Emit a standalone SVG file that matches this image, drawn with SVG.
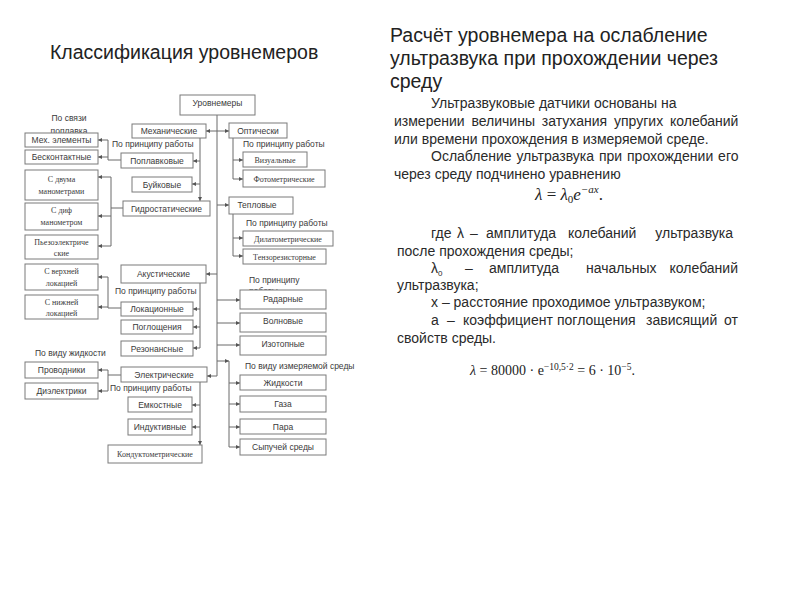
<svg xmlns="http://www.w3.org/2000/svg" width="800" height="600" viewBox="0 0 800 600">
<style>
.bg{fill:#fff}
.box{fill:#fff;stroke:#7a7a7a;stroke-width:1}
.t{font-family:"Liberation Sans",Arial,sans-serif;font-size:8.5px;fill:#3a3a3a;text-anchor:middle}
.s{font-family:"Liberation Serif","Times New Roman",serif;font-size:8px;fill:#3a3a3a;text-anchor:middle}
.lbl{font-family:"Liberation Sans",Arial,sans-serif;font-size:8.5px;fill:#3a3a3a}
.title{font-family:"Liberation Sans",Arial,sans-serif;font-size:19.5px;fill:#222}
.body{font-family:"Liberation Sans",Arial,sans-serif;font-size:14px;fill:#2a2a2a}
.math{font-family:"Liberation Serif","Times New Roman",serif;fill:#222}
.c{fill:none;stroke:#6a6a6a;stroke-width:1}
.a{fill:none;stroke:#6a6a6a;stroke-width:1;marker-end:url(#ah)}
</style>
<defs>
<marker id="ah" viewBox="0 0 6 6" markerWidth="4" markerHeight="4" refX="6" refY="3" orient="auto" markerUnits="userSpaceOnUse">
<path d="M0,0 L6,3 L0,6 z" fill="#555"/>
</marker>
</defs>
<rect class="bg" x="0" y="0" width="800" height="600"/>

<text class="title" x="50" y="59">Классификация уровнемеров</text>

<g id="labels">
<text class="lbl" x="69" y="121" text-anchor="middle">По связи</text>
<text class="lbl" x="69" y="133.5" text-anchor="middle">поплавка</text>
<text class="lbl" x="112" y="147">По принципу работы</text>
<text class="lbl" x="243" y="147">По принципу работы</text>
<text class="lbl" x="246" y="226">По принципу работы</text>
<text class="lbl" x="249" y="283">По принципу</text>
<text class="lbl" x="249" y="293.5">работы</text>
<text class="lbl" x="115" y="294">По принципу работы</text>
<text class="lbl" x="35" y="356">По виду жидкости</text>
<text class="lbl" x="110" y="391">По принципу работы</text>
<text class="lbl" x="245" y="369">По виду измеряемой среды</text>
</g>

<g id="connectors">
<path class="c" d="M217,115 V376"/>
<path class="a" d="M217,131 H206"/>
<path class="a" d="M217,131 H229"/>
<path class="a" d="M200,138 V201"/>
<path class="a" d="M200,161 H193"/>
<path class="a" d="M200,184 H192"/>
<path class="c" d="M121,160 H108 M108,140 V160"/>
<path class="a" d="M108,140 H98"/>
<path class="a" d="M108,157 H98"/>
<path class="c" d="M123,208 H111 M111,177 V246"/>
<path class="a" d="M111,177 H98"/>
<path class="a" d="M111,216 H98"/>
<path class="a" d="M111,246 H98"/>
<path class="c" d="M233,138 V179"/>
<path class="a" d="M233,160 H243"/>
<path class="a" d="M233,179 H243"/>
<path class="a" d="M217,205 H229"/>
<path class="c" d="M233,214 V256"/>
<path class="a" d="M233,238 H243"/>
<path class="a" d="M233,256 H243"/>
<path class="a" d="M217,274 H206"/>
<path class="c" d="M200,283 V348"/>
<path class="a" d="M200,309 H193"/>
<path class="a" d="M200,327 H193"/>
<path class="a" d="M200,348 H193"/>
<path class="c" d="M121,308 H108 M108,277 V308"/>
<path class="a" d="M108,277 H98"/>
<path class="a" d="M108,307 H98"/>
<path class="a" d="M217,300 H240"/>
<path class="a" d="M217,323 H240"/>
<path class="a" d="M217,345 H240"/>
<path class="a" d="M217,361 H229"/>
<path class="c" d="M229,361 V447"/>
<path class="a" d="M229,383 H240"/>
<path class="a" d="M229,404 H240"/>
<path class="a" d="M229,427 H240"/>
<path class="a" d="M229,447 H240"/>
<path class="a" d="M217,376 H207"/>
<path class="c" d="M121,375 H108 M108,370 V391"/>
<path class="a" d="M108,370 H98"/>
<path class="a" d="M108,391 H98"/>
<path class="a" d="M200,382 V445"/>
<path class="a" d="M200,405 H192"/>
<path class="a" d="M200,427 H192"/>
</g>

<g id="n-root"><rect class="box" x="180" y="95" width="75" height="20"/><text class="t" x="217.5" y="106">Уровнемеры</text></g>
<g id="n-mech"><rect class="box" x="132" y="124" width="74" height="14"/><text class="t" x="169" y="134">Механические</text></g>
<g id="n-opt"><rect class="box" x="229" y="123" width="58" height="15"/><text class="t" x="258" y="134">Оптически</text></g>
<g id="n-mexel"><rect class="box" x="25" y="133" width="73" height="14"/><text class="t" x="61.5" y="143">Мех. элементы</text></g>
<g id="n-beskont"><rect class="box" x="25" y="150" width="73" height="14"/><text class="t" x="61.5" y="160">Бесконтактные</text></g>
<g id="n-poplav"><rect class="box" x="121" y="153" width="72" height="15"/><text class="t" x="157" y="164">Поплавковые</text></g>
<g id="n-buik"><rect class="box" x="132" y="177" width="60" height="15"/><text class="t" x="162" y="188">Буйковые</text></g>
<g id="n-gidro"><rect class="box" x="123" y="201" width="87" height="15"/><text class="t" x="166.5" y="212">Гидростатические</text></g>
<g id="n-dvuma"><rect class="box" x="25" y="170" width="73" height="30"/><text class="s" x="61.5" y="182">С двума</text><text class="s" x="61.5" y="194">манометрами</text></g>
<g id="n-dif"><rect class="box" x="25" y="203" width="73" height="27"/><text class="s" x="61.5" y="213">С диф</text><text class="s" x="61.5" y="225">манометром</text></g>
<g id="n-piezo"><rect class="box" x="25" y="235" width="73" height="24"/><text class="s" x="61.5" y="245">Пьезоэлектриче</text><text class="s" x="61.5" y="256">ские</text></g>
<g id="n-verh"><rect class="box" x="25" y="264" width="73" height="26"/><text class="s" x="61.5" y="274">С верхней</text><text class="s" x="61.5" y="286">локацией</text></g>
<g id="n-nizh"><rect class="box" x="25" y="295" width="73" height="24"/><text class="s" x="61.5" y="305">С нижней</text><text class="s" x="61.5" y="316">локацией</text></g>
<g id="n-vizual"><rect class="box" x="243" y="152" width="64" height="15"/><text class="s" x="275" y="162.5">Визуальные</text></g>
<g id="n-foto"><rect class="box" x="243" y="170" width="82" height="17"/><text class="s" x="284" y="181.5">Фотометрические</text></g>
<g id="n-teplo"><rect class="box" x="229" y="197" width="64" height="17"/><text class="t" x="257" y="208">Тепловые</text></g>
<g id="n-dilat"><rect class="box" x="243" y="231" width="90" height="15"/><text class="s" x="288" y="241.5">Дилатометрические</text></g>
<g id="n-tenzo"><rect class="box" x="243" y="249" width="83" height="15"/><text class="s" x="284.5" y="259.5">Тензорезисторные</text></g>
<g id="n-akust"><rect class="box" x="121" y="265" width="85" height="18"/><text class="t" x="163.5" y="277">Акустические</text></g>
<g id="n-lokac"><rect class="box" x="121" y="302" width="72" height="14"/><text class="t" x="157" y="312">Локационные</text></g>
<g id="n-pogl"><rect class="box" x="121" y="320" width="72" height="14"/><text class="t" x="157" y="330">Поглощения</text></g>
<g id="n-rezon"><rect class="box" x="121" y="341" width="72" height="15"/><text class="t" x="157" y="351.5">Резонансные</text></g>
<g id="n-radar"><rect class="box" x="240" y="290" width="86" height="19"/><text class="t" x="283" y="301.5">Радарные</text></g>
<g id="n-volnov"><rect class="box" x="240" y="313" width="86" height="19"/><text class="t" x="283" y="324">Волновые</text></g>
<g id="n-izotop"><rect class="box" x="240" y="336" width="86" height="19"/><text class="t" x="283" y="347">Изотопные</text></g>
<g id="n-elektr"><rect class="box" x="121" y="367" width="86" height="15"/><text class="t" x="164" y="378">Электрические</text></g>
<g id="n-provod"><rect class="box" x="25" y="362" width="73" height="16"/><text class="t" x="61.5" y="373">Проводники</text></g>
<g id="n-diel"><rect class="box" x="25" y="383" width="73" height="16"/><text class="t" x="61.5" y="394">Диэлектрики</text></g>
<g id="n-emk"><rect class="box" x="128" y="397" width="64" height="15"/><text class="t" x="160" y="408">Емкостные</text></g>
<g id="n-indukt"><rect class="box" x="128" y="419" width="64" height="16"/><text class="t" x="160" y="430">Индуктивные</text></g>
<g id="n-kondukt"><rect class="box" x="108" y="445" width="94" height="18"/><text class="s" x="155" y="457">Кондуктометрические</text></g>
<g id="n-zhidk"><rect class="box" x="240" y="375" width="86" height="15"/><text class="t" x="283" y="385.5">Жидкости</text></g>
<g id="n-gaza"><rect class="box" x="240" y="396" width="86" height="16"/><text class="t" x="283" y="407">Газа</text></g>
<g id="n-para"><rect class="box" x="240" y="419" width="86" height="15"/><text class="t" x="283" y="429.5">Пара</text></g>
<g id="n-sypuch"><rect class="box" x="240" y="439" width="86" height="16"/><text class="t" x="283" y="450">Сыпучей среды</text></g>

<g id="right-text">
<text class="title" x="390" y="42">Расчёт уровнемера на ослабление</text>
<text class="title" x="390" y="65">ультразвука при прохождении через</text>
<text class="title" x="390" y="88">среду</text>
<text class="body" x="431" y="108">Ультразвуковые датчики основаны на</text>
<text class="body" x="394" y="126" word-spacing="3">измерении величины затухания упругих колебаний</text>
<text class="body" x="394" y="144">или времени прохождения в измеряемой среде.</text>
<text class="body" x="431" y="161" word-spacing="1">Ослабление ультразвука при прохождении его</text>
<text class="body" x="394" y="179">через среду подчинено уравнению</text>
<text class="math" x="535" y="200" font-size="17" font-style="italic">λ <tspan font-style="normal">=</tspan> λ<tspan font-size="11" dy="3" font-style="normal">0</tspan><tspan dy="-3">e</tspan><tspan font-size="11" dy="-7">−ax</tspan><tspan dy="7" font-style="normal">.</tspan></text>

<text class="body" y="238"><tspan x="431">где</tspan><tspan x="457">λ</tspan><tspan x="470">–</tspan><tspan x="486">амплитуда</tspan><tspan x="568">колебаний</tspan></text>
<text class="body" x="733" y="238" text-anchor="end">ультразвука</text>
<text class="body" x="397" y="256">после прохождения среды;</text>
<text class="body" y="273"><tspan x="431">λ</tspan><tspan font-size="8" dy="3">0</tspan><tspan x="465" dy="-3">–</tspan><tspan x="489">амплитуда</tspan><tspan x="586">начальных</tspan></text>
<text class="body" x="738" y="273" text-anchor="end">колебаний</text>
<text class="body" x="397" y="290">ультразвука;</text>
<text class="body" x="431" y="307">x – расстояние проходимое ультразвуком;</text>
<text class="body" y="325"><tspan x="431">а</tspan><tspan x="447">–</tspan><tspan x="463">коэффициент</tspan><tspan x="557">поглощения</tspan><tspan x="646">зависящий</tspan></text>
<text class="body" x="738" y="325" text-anchor="end">от</text>
<text class="body" x="397" y="343">свойств среды.</text>
<text class="math" x="470" y="375" font-size="14"><tspan font-style="italic">λ</tspan> = 80000 · e<tspan font-size="9.5" dy="-5">−10,5·2</tspan><tspan dy="5"> = 6 · 10</tspan><tspan font-size="9.5" dy="-5">−5</tspan><tspan dy="5">.</tspan></text>
</g>
</svg>
